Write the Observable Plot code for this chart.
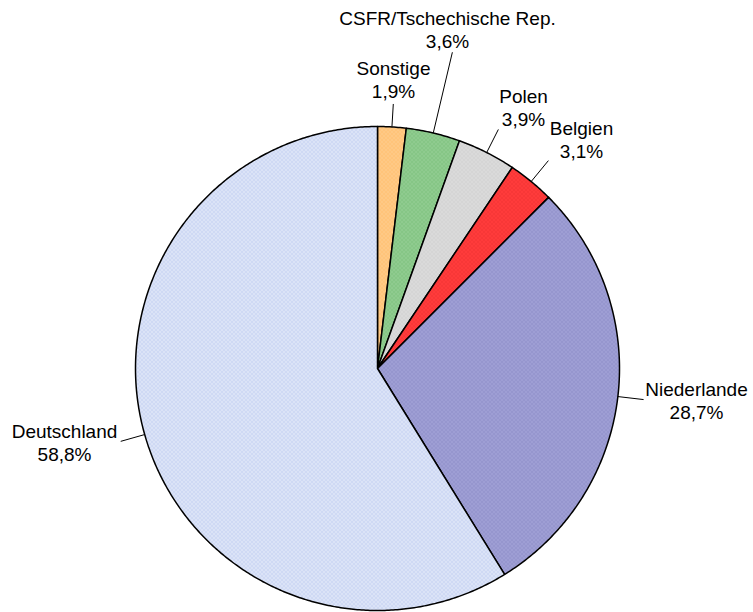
<!DOCTYPE html>
<html>
<head>
<meta charset="utf-8">
<script src="https://cdn.jsdelivr.net/npm/d3@7"></script>
<script src="https://cdn.jsdelivr.net/npm/@observablehq/plot@0.6"></script>
<style>
  html, body { margin: 0; padding: 0; background: #fff; }
  #chart svg { display: block; }
</style>
</head>
<body>
<div id="chart"></div>
<script>
// ---- data ----
const categories = ["Sonstige", "CSFR/Tschechische Rep.", "Polen", "Belgien", "Niederlande", "Deutschland"];
const shares = [1.9, 3.6, 3.9, 3.1, 28.7, 58.8];
const valueLabels = ["1,9%", "3,6%", "3,9%", "3,1%", "28,7%", "58,8%"];

// ---- styles / layout ----
const baseColors = ["#ffc47a", "#86c686", "#dadada", "#ff3b3b", "#9e9ed4", "#cfd9f4"];
const dotColors  = ["#ffd9a6", "#a8d8a8", "#c6c6c6", "#e22a2a", "#7e7eba", "#ffffff"];
const W = 753, H = 612, CX = 377, CY = 368, R = 242;
// label block centres (pixels) and leader outer radius (in pie radii)
const labelPos = [[393, 79], [447, 29], [523, 107], [581, 139], [696, 400], [64, 442]];
const leaderOut = [1.095, 1.343, 1.107, 1.112, 1.107, 1.103];

const patternIds = categories.map((c, i) => "pat" + i);

const total = d3.sum(shares);
const rows = [];
const mids = [];
let acc = 0;
shares.forEach((v, i) => {
  const a0 = acc / total * 2 * Math.PI;
  acc += v;
  const a1 = acc / total * 2 * Math.PI;
  mids.push((a0 + a1) / 2);
  rows.push({cat: categories[i], x: 0, y: 0});
  const n = Math.max(2, Math.ceil((a1 - a0) / (Math.PI / 360)));
  for (let k = 0; k <= n; k++) {
    const a = a0 + (a1 - a0) * k / n;
    rows.push({cat: categories[i], x: Math.sin(a), y: Math.cos(a)});
  }
  rows.push({cat: categories[i], x: 0, y: 0});
});

const leaders = categories.map((c, i) => ({
  x1: Math.sin(mids[i]), y1: Math.cos(mids[i]),
  x2: leaderOut[i] * Math.sin(mids[i]), y2: leaderOut[i] * Math.cos(mids[i])
}));

const labels = categories.map((c, i) => ({
  text: c + "\n" + valueLabels[i],
  x: (labelPos[i][0] - CX) / R,
  y: (CY - labelPos[i][1]) / R
}));

function patternDefs() {
  const defs = d3.create("svg:defs");
  categories.forEach((c, i) => {
    const p = defs.append("pattern")
      .attr("id", patternIds[i])
      .attr("patternUnits", "userSpaceOnUse")
      .attr("width", 4).attr("height", 4);
    p.append("rect").attr("width", 4).attr("height", 4).attr("fill", baseColors[i]);
    p.append("rect").attr("x", 1).attr("y", 1).attr("width", 1).attr("height", 1).attr("fill", dotColors[i]);
    p.append("rect").attr("x", 3).attr("y", 3).attr("width", 1).attr("height", 1).attr("fill", dotColors[i]);
  });
  return defs.node();
}

const chart = Plot.plot({
  width: W, height: H,
  margin: 0,
  style: {background: "#fff", fontFamily: "'Liberation Sans', Arial, sans-serif", overflow: "visible"},
  x: {domain: [-CX / R, (W - CX) / R], axis: null},
  y: {domain: [-(H - CY) / R, CY / R], axis: null},
  color: {domain: categories, range: patternIds.map(id => `url(#${id})`)},
  marks: [
    patternDefs,
    Plot.line(rows, {x: "x", y: "y", z: "cat", fill: "cat", stroke: "#000", strokeWidth: 1.5, strokeLinejoin: "round", curve: "linear"}),
    Plot.link(leaders, {x1: "x1", y1: "y1", x2: "x2", y2: "y2", stroke: "#000", strokeWidth: 1}),
    Plot.text(labels, {x: "x", y: "y", text: "text", fontSize: 19, lineHeight: 1.2, fill: "#000", textAnchor: "middle", lineAnchor: "middle"})
  ]
});
document.getElementById("chart").appendChild(chart);
</script>
</body>
</html>
